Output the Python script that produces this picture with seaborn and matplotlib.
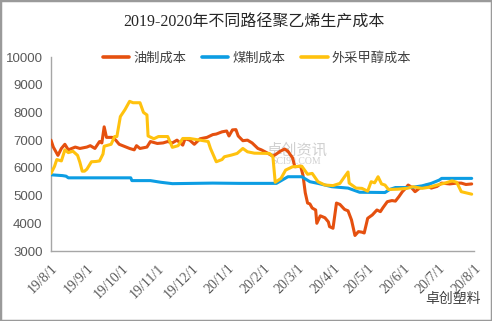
import matplotlib
matplotlib.use("Agg")
import matplotlib.pyplot as plt
import matplotlib.dates as mdates
import matplotlib.patches as patches
import seaborn as sns
import pandas as pd
from matplotlib.ticker import FuncFormatter

title = "2019-2020年不同路径聚乙烯生产成本"
series_names = ["油制成本", "煤制成本", "外采甲醇成本"]
colors = ["#E5500F", "#0C9DE3", "#FFC20E"]

oil_dates = ["2019-08-01","2019-08-03","2019-08-07","2019-08-10","2019-08-13","2019-08-16","2019-08-22","2019-08-26",
             "2019-09-01","2019-09-04","2019-09-08","2019-09-12","2019-09-14","2019-09-16","2019-09-18","2019-09-23","2019-09-26","2019-09-29",
             "2019-10-08","2019-10-12","2019-10-14","2019-10-17","2019-10-23","2019-10-26",
             "2019-11-01","2019-11-06","2019-11-10","2019-11-14","2019-11-18","2019-11-23","2019-11-25","2019-11-29",
             "2019-12-03","2019-12-08","2019-12-14","2019-12-19","2019-12-22","2019-12-27","2019-12-31",
             "2020-01-02","2020-01-05","2020-01-08","2020-01-10","2020-01-14","2020-01-18","2020-01-22","2020-01-27","2020-01-30",
             "2020-02-04","2020-02-09","2020-02-12","2020-02-15","2020-02-19","2020-02-22","2020-02-26","2020-02-28",
             "2020-03-04","2020-03-06","2020-03-08","2020-03-10","2020-03-12","2020-03-14","2020-03-17","2020-03-18","2020-03-21","2020-03-25","2020-03-28","2020-03-29",
             "2020-04-01","2020-04-04","2020-04-07","2020-04-11","2020-04-14","2020-04-17","2020-04-20","2020-04-23","2020-04-26","2020-04-28","2020-04-30",
             "2020-05-01","2020-05-05","2020-05-09","2020-05-12","2020-05-14","2020-05-18","2020-05-22","2020-05-25","2020-05-28","2020-05-31",
             "2020-06-03","2020-06-05","2020-06-07","2020-06-11","2020-06-15","2020-06-21","2020-06-25","2020-06-30",
             "2020-07-04","2020-07-11","2020-07-17","2020-07-21","2020-07-25","2020-07-30"]
oil_values = [7000,6750,6450,6700,6850,6650,6750,6700,
              6750,6800,6700,6950,6900,7480,7100,7100,7000,6850,
              6700,6650,6800,6700,6750,6950,
              6880,6900,6950,6900,7000,6820,7050,7000,
              6850,7050,7100,7200,7220,7300,7330,
              7150,7370,7380,7150,6980,7000,6900,6700,6650,
              6540,6420,6500,6590,6680,6600,6360,6040,
              6060,5740,5100,4730,4700,4550,4480,4000,4270,4200,4050,3880,
              3820,4730,4680,4500,4450,4120,3560,3700,3680,3650,4000,
              4180,4300,4480,4420,4550,4780,4820,4800,4960,5140,
              5270,5380,5330,5140,5270,5380,5270,5330,
              5450,5420,5450,5450,5400,5420]

coal_dates = ["2019-08-01","2019-08-11","2019-08-14","2019-08-16","2019-10-09","2019-10-10","2019-10-26","2019-11-04",
              "2019-11-14","2019-12-19","2020-01-11","2020-02-12","2020-02-22","2020-03-05","2020-03-12","2020-03-19",
              "2020-03-31","2020-04-14","2020-04-24","2020-05-16","2020-05-20","2020-05-25","2020-06-07","2020-06-17",
              "2020-06-25","2020-07-02","2020-07-04","2020-07-30"]
coal_values = [5750,5720,5700,5640,5640,5540,5540,5480,
               5430,5450,5440,5440,5680,5680,5500,5440,
               5320,5270,5120,5110,5220,5290,5290,5350,
               5440,5560,5620,5620]

meth_dates = ["2019-08-01","2019-08-04","2019-08-06","2019-08-10","2019-08-13","2019-08-16","2019-08-20","2019-08-24","2019-08-26","2019-08-28","2019-08-30",
              "2019-09-01","2019-09-05","2019-09-09","2019-09-12","2019-09-15","2019-09-16","2019-09-22","2019-09-25","2019-09-27","2019-09-30",
              "2019-10-04","2019-10-08","2019-10-11","2019-10-17","2019-10-20","2019-10-23","2019-10-24","2019-10-29",
              "2019-11-02","2019-11-10","2019-11-14","2019-11-19","2019-11-23","2019-11-29",
              "2019-12-08","2019-12-15","2019-12-17","2019-12-22","2019-12-27","2019-12-29",
              "2020-01-04","2020-01-09","2020-01-14","2020-01-18","2020-01-24",
              "2020-02-06","2020-02-09","2020-02-11","2020-02-16","2020-02-20","2020-02-26",
              "2020-03-05","2020-03-10","2020-03-14","2020-03-19","2020-03-25",
              "2020-04-01","2020-04-07","2020-04-11","2020-04-14","2020-04-15","2020-04-21","2020-04-26",
              "2020-05-01","2020-05-04","2020-05-07","2020-05-10","2020-05-13","2020-05-16","2020-05-19","2020-05-27",
              "2020-06-04","2020-06-09","2020-06-17","2020-06-23","2020-06-30",
              "2020-07-06","2020-07-13","2020-07-17","2020-07-21","2020-07-25","2020-07-30"]
meth_values = [5800,6050,6300,6250,6650,6550,6600,6450,6200,5880,5880,
               5950,6220,6230,6250,6500,6780,6850,7130,7130,7850,
               8100,8400,8350,8350,8000,7910,7150,7050,
               7130,7130,6740,6800,7060,7060,
               7000,6950,6700,6220,6300,6400,
               6460,6520,6700,6580,6530,
               6520,6400,5480,5620,5920,6040,
               6060,5770,5800,5500,5380,
               5360,5440,5680,5850,5450,5270,5260,
               5160,5500,5460,5680,5420,5380,5220,5230,
               5260,5320,5260,5300,5380,
               5440,5530,5480,5140,5100,5050]

month_ticks = ["2019-08-01","2019-09-01","2019-10-01","2019-11-01","2019-12-01","2020-01-01","2020-02-01",
               "2020-03-01","2020-04-01","2020-05-01","2020-06-01","2020-07-01","2020-08-01"]
y_ticks = [3000, 4000, 5000, 6000, 7000, 8000, 9000, 10000]

sns.set_theme(style="white")
plt.rcParams['font.family'] = ['Liberation Sans', 'Noto Sans CJK SC', 'DejaVu Sans']

fig = plt.figure(figsize=(4.92, 3.21), dpi=100)
ax = fig.add_axes([51/492, 1-251/321, (474-51)/492, (251-57)/321])

frames = []
for name, d, v in [(series_names[0], oil_dates, oil_values),
                   (series_names[1], coal_dates, coal_values),
                   (series_names[2], meth_dates, meth_values)]:
    frames.append(pd.DataFrame({"date": pd.to_datetime(d), "value": v, "series": name}))
df = pd.concat(frames, ignore_index=True)

# watermark
ax.text(0.58, 0.52, "卓创资讯", transform=ax.transAxes, fontsize=11, color="#d0d0d0",
        family=['Noto Sans CJK SC'], ha="center", va="center", zorder=0)
ax.text(0.58, 0.46, "SCI99.COM", transform=ax.transAxes, fontsize=7, color="#d0d0d0",
        family=['Liberation Serif'], ha="center", va="center", zorder=0)

sns.lineplot(data=df, x="date", y="value", hue="series", hue_order=series_names,
             palette=colors, linewidth=2.2, ax=ax, estimator=None, sort=True, legend=False, zorder=3)

ax.set_xlim(pd.Timestamp("2019-08-01"), pd.Timestamp("2020-08-01"))
ax.set_ylim(3000, 10000)
ax.set_yticks(y_ticks)
ax.set_xticks(pd.to_datetime(month_ticks))
ax.xaxis.set_major_formatter(FuncFormatter(
    lambda x, pos: (lambda d: f"{d.year % 100}/{d.month}/{d.day}")(mdates.num2date(x))))
ax.set_xlabel("")
ax.set_ylabel("")

for s in ["top", "right"]:
    ax.spines[s].set_visible(False)
for s in ["left", "bottom"]:
    ax.spines[s].set_color("#a6a6a6")
    ax.spines[s].set_linewidth(1.0)

ax.tick_params(axis="y", direction="in", length=3, color="#a6a6a6", labelsize=9.5, labelcolor="#595959", pad=6)
ax.tick_params(axis="x", direction="in", length=3, color="#a6a6a6", labelsize=10, labelcolor="#595959", pad=8)
for lab in ax.get_xticklabels():
    lab.set_rotation(45)
    lab.set_ha("right")
    lab.set_rotation_mode("anchor")
    lab.set_family(['Liberation Serif'])

handles = [plt.Line2D([], [], color=c, lw=2.6) for c in colors]
fig.legend(handles, series_names, loc="center", bbox_to_anchor=(257/492, 1-58/321), ncol=3,
           frameon=False, handlelength=2.0, handletextpad=0.3, columnspacing=1.2,
           prop={'family': ['Noto Sans CJK SC'], 'size': 9.5}, labelcolor="#404040")

fig.text(254/492, 1-22/321, title, ha="center", va="center", fontsize=11.5, color="#262626",
         family=['Liberation Serif', 'Noto Sans CJK SC'])

fig.text(453/492, 1-299/321, "卓创塑料", ha="center", va="center", fontsize=10, color="#404040",
         family=['Noto Sans CJK SC'])

fig.patches.append(patches.Rectangle((0, 0), 1, 1, transform=fig.transFigure, fill=False,
                                     edgecolor="#9a9a9a", linewidth=2.5))

fig.savefig("out.png", dpi=100)
